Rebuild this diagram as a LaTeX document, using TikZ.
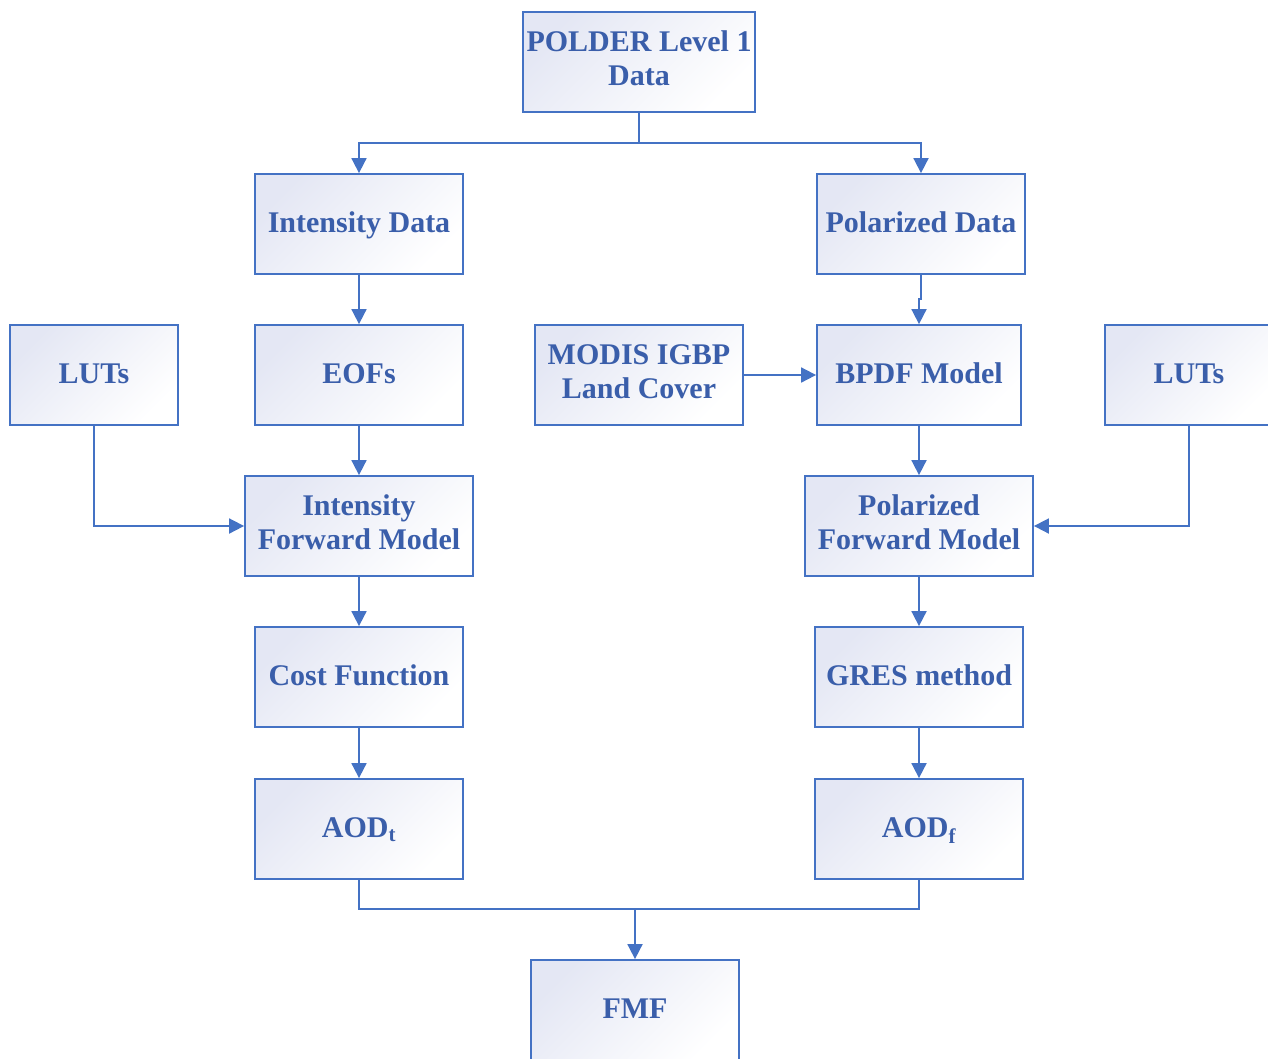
\documentclass[tikz,border=0pt]{standalone}
\usepackage{fontspec}
\setmainfont{Liberation Serif}
\usepackage{tikz}
\usetikzlibrary{
    positioning,      % For placing nodes relative to each other
    arrows.meta,      % For modern arrow tips
    calc              % For calculating coordinates
}
\definecolor{lineblue}{RGB}{68,114,196}
\definecolor{textblue}{RGB}{58,94,170}
\definecolor{shadeblue}{RGB}{228,231,244}

\begin{document}
\begin{tikzpicture}[
    x=1pt, y=-1pt,
    % Style for the boxes
    box_style/.style={
        draw=lineblue,
        line width=1.8pt,
        shading=axis,
        top color=shadeblue,
        bottom color=white,
        shading angle=45,
        minimum width=208pt,
        minimum height=100pt,
        align=center,
        text=textblue,
        font=\fontsize{30}{34}\selectfont\bfseries,
        execute at begin node=\rule{0pt}{24pt},
        execute at end node=\rule[-7pt]{0pt}{7pt}
    },
    % Style for the connectors
    link_style/.style={
        draw=lineblue,
        line width=1.8pt
    },
    % Style for arrowheads
    arrow_tip/.style={
        -{Triangle[length=15pt, width=15pt]}
    }
]
    \useasboundingbox (0,0) rectangle (1268,1058);

    % 1. Define the nodes of the flow chart.
    \node[box_style, minimum width=228pt] (polder) at (639,62) {POLDER Level 1\\Data};
    \node[box_style] (int_data) at (359,224) {Intensity Data};
    \node[box_style] (pol_data) at (921,224) {Polarized Data};

    \node[box_style, minimum width=168pt] (luts_left) at (94,375) {LUTs};
    \node[box_style] (eofs) at (359,375) {EOFs};
    \node[box_style] (modis) at (639,375) {MODIS IGBP\\Land Cover};
    \node[box_style, minimum width=204pt] (bpdf) at (919,375) {BPDF Model};
    \node[box_style, minimum width=168pt] (luts_right) at (1189,375) {LUTs};

    \node[box_style, minimum width=228pt] (int_model) at (359,526) {Intensity\\Forward Model};
    \node[box_style, minimum width=228pt] (pol_model) at (919,526) {Polarized\\Forward Model};

    \node[box_style] (cost) at (359,677) {Cost Function};
    \node[box_style] (gres) at (919,677) {GRES method};

    \node[box_style] (aod_t) at (359,829) {AOD\textsubscript{t}};
    \node[box_style] (aod_f) at (919,829) {AOD\textsubscript{f}};

    \node[box_style] (fmf) at (635,1010) {FMF};

    % 2. Split the input data into the two branches.
    \coordinate (split) at ($(polder.south)+(0,30)$);
    \draw[link_style] (polder.south) -- (split);
    \draw[link_style, arrow_tip] (split) -| (int_data.north);
    \draw[link_style, arrow_tip] (split) -| (pol_data.north);

    % 3. Intensity branch (left).
    \draw[link_style, arrow_tip] (int_data) -- (eofs);
    \draw[link_style, arrow_tip] (eofs) -- (int_model);
    \draw[link_style, arrow_tip] (luts_left.south) |- (int_model.west);
    \draw[link_style, arrow_tip] (int_model) -- (cost);
    \draw[link_style, arrow_tip] (cost) -- (aod_t);

    % 4. Polarized branch (right).
    \draw[link_style, arrow_tip] (pol_data.south) -- ++(0,24) -| (bpdf.north);
    \draw[link_style, arrow_tip] (modis) -- (bpdf);
    \draw[link_style, arrow_tip] (bpdf) -- (pol_model);
    \draw[link_style, arrow_tip] (luts_right.south) |- (pol_model.east);
    \draw[link_style, arrow_tip] (pol_model) -- (gres);
    \draw[link_style, arrow_tip] (gres) -- (aod_f);

    % 5. Merge both AODs into the FMF.
    \coordinate (merge) at ($(fmf.north)+(0,-50)$);
    \draw[link_style] (aod_t.south) |- (merge);
    \draw[link_style] (aod_f.south) |- (merge);
    \draw[link_style, arrow_tip] (merge) -- (fmf.north);

\end{tikzpicture}
\end{document}
